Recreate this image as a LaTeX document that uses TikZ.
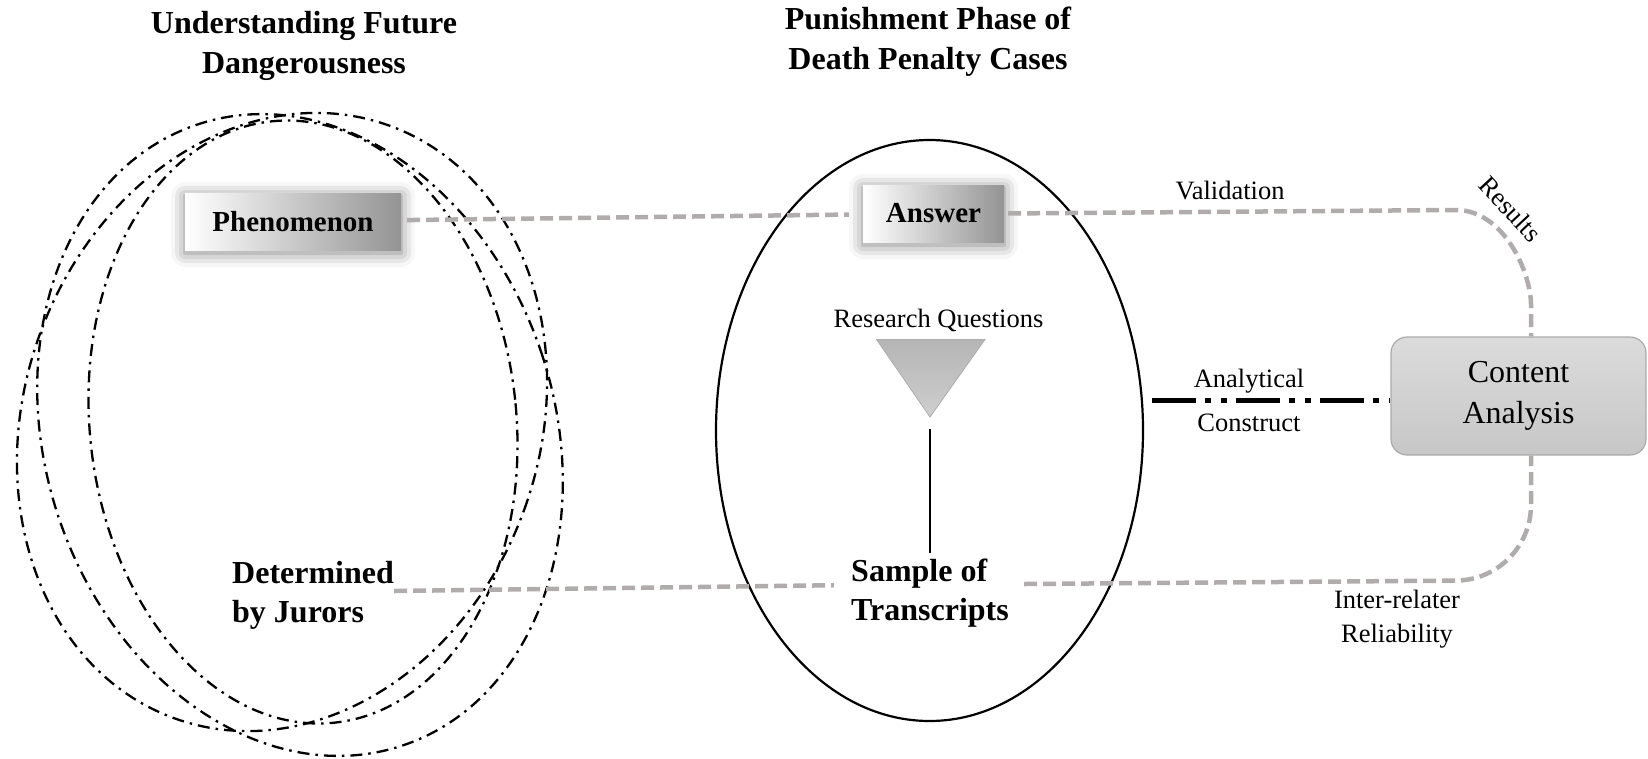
\documentclass[tikz,border=0pt]{standalone}
\usepackage{fontspec}
\setmainfont{Liberation Serif}
\usetikzlibrary{shapes.geometric,shadows.blur,calc}

\definecolor{linkgray}{RGB}{176,172,172}

\tikzset{
  ring/.style={line width=2.3pt, dash pattern=on 12pt off 6pt on 2.5pt off 6pt},
  link/.style={draw=linkgray, line width=4.5pt, dash pattern=on 13pt off 6pt},
  construct/.style={line width=4.5pt, dash pattern=on 44pt off 9pt on 6pt off 10pt on 6pt off 9pt},
  glowbox/.style={inner sep=0pt, minimum height=57pt, left color=white, right color=black!42,
    blur shadow={shadow xshift=0pt, shadow yshift=-3pt, shadow blur radius=14pt, shadow opacity=50},
    font=\fontsize{29}{34}\selectfont\bfseries},
  title/.style={align=center, font=\fontsize{32}{40}\selectfont\bfseries},
  big/.style={inner sep=0pt, align=left, font=\fontsize{32}{39}\selectfont\bfseries},
  small/.style={inner sep=0pt, font=\fontsize{26.5}{34}\selectfont},
  stem/.style={line width=2.3pt},
}

\begin{document}
\begin{tikzpicture}[x=1pt,y=-1pt]
\useasboundingbox (0,0) rectangle (1648,758);

% overlapping dash-dotted rings on the left
\draw[ring, rotate around={18:(300,435)}] (300,435) ellipse [x radius=255pt, y radius=327pt];
\draw[ring, rotate around={-20:(282,422)}] (282,422) ellipse [x radius=257.6pt, y radius=315.2pt];
\draw[ring, rotate around={6:(303,422)}] (303,422) ellipse [x radius=213.3pt, y radius=302.3pt];

% central phase ellipse
\node[draw, ellipse, line width=2.2pt, minimum width=427pt, minimum height=581pt, inner sep=0pt] (phase) at (929.5,430.5) {};

% titles
\node[title] (t1) at (304,46) {Understanding Future\\Dangerousness};
\node[title] (t2) at (928,42) {Punishment Phase of\\Death Penalty Cases};

% shaded boxes
\node[glowbox, minimum width=216pt] (phen) at (293,221.5) {Phenomenon};
\node[glowbox, minimum width=141pt] (ans) at (933.5,213.5) {Answer};

% text blocks
\node[big, anchor=west] (det) at (232,595) {Determined\\by Jurors};
\node[big, anchor=west] (samp) at (851,593) {Sample of\\Transcripts};

% content analysis box
\node[draw=black!33, line width=1.2pt, rounded corners=16pt, top color=black!14, bottom color=black!22,
  minimum width=255pt, minimum height=118pt, align=center, font=\fontsize{32}{41}\selectfont] (content) at (1518.5,396) {Content\\Analysis};

% research questions funnel
\node[small] (rq) at (938.5,320) {Research Questions};
\shadedraw[top color=black!29, bottom color=black!19, draw=black!32, line width=0.8pt]
  (876.5,339.5) -- (985,339.5) -- (930,417) -- cycle;
\coordinate (stemtop) at (930,429);
\draw[stem, shorten >=6pt] (stemtop) -- (stemtop |- samp.north);

% labels
\node[small] (val) at (1230,191) {Validation};
\node[small, rotate=-47] (res) at (1511,209) {Results};
\node[small, align=center, font=\fontsize{26.5}{44}\selectfont] (ac) at (1249,400) {Analytical\\Construct};
\node[small, align=center, font=\fontsize{26.5}{34}\selectfont] (irr) at (1397,619) {Inter-relater\\Reliability};

% connectors
\draw[link, shorten <=6pt, shorten >=14pt] (phen) -- (ans);
\coordinate (rtop) at (1456,210);
\coordinate (rdown) at (1531,305);
\draw[link, shorten <=4pt] (ans.east) -- (rtop) .. controls +(48,0) and +(0,-32) .. (rdown) -- (rdown |- content.north);

\draw[link, shorten >=17pt] ([yshift=4pt]det.east) -- ([yshift=8pt]samp.west);
\coordinate (rbot) at (1531,580);
\draw[link, rounded corners=75pt] ([xshift=15pt,yshift=9pt]samp.east) -- (rbot) -- (rbot |- content.south);

\coordinate (acl) at ([xshift=9pt]phase.8);
\draw[construct] (acl) -- (acl -| content.west);
\end{tikzpicture}
\end{document}
